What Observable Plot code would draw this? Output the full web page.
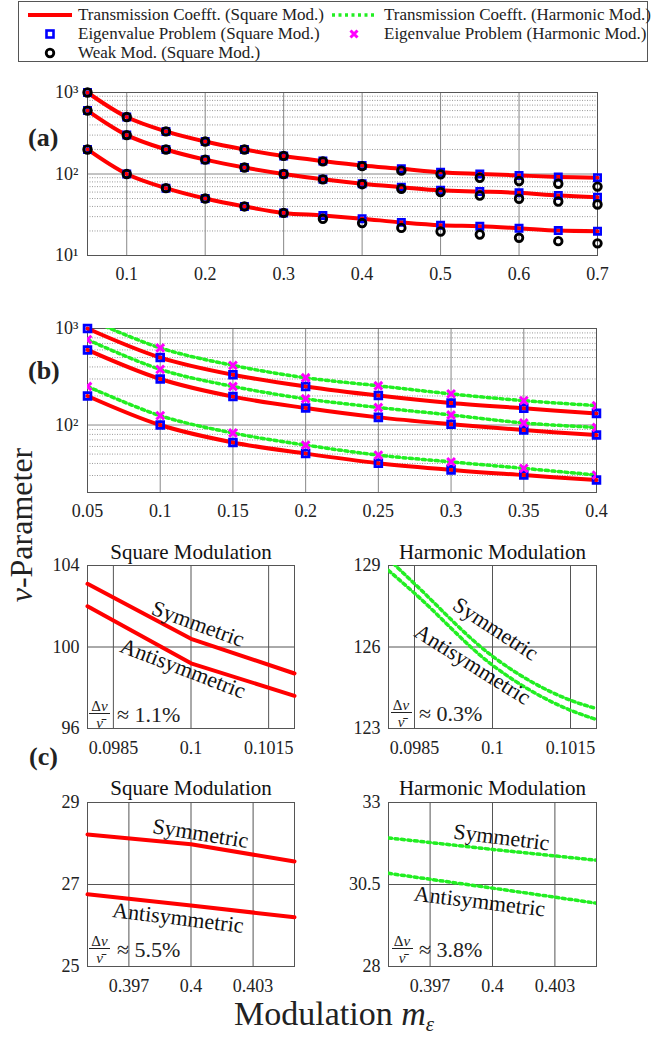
<!DOCTYPE html>
<html><head><meta charset="utf-8">
<script src="https://cdn.jsdelivr.net/npm/d3@7"></script>
<script src="https://cdn.jsdelivr.net/npm/@observablehq/plot@0.6"></script>
<style>
body{margin:0;background:#fff;}
#root{position:relative;width:654px;height:1042px;overflow:hidden;font-family:"Liberation Serif","DejaVu Serif",serif;color:#222;}
.abs{position:absolute;white-space:nowrap;}
svg{overflow:visible;}
</style></head><body><div id="root"></div>
<script>
// ---------- data ----------
const legendLabels = ["Transmission Coefft. (Square Mod.)","Transmission Coefft. (Harmonic Mod.)","Eigenvalue Problem (Square Mod.)","Eigenvalue Problem (Harmonic Mod.)","Weak Mod. (Square Mod.)"];

// panel (a)
const mA = [0.05,0.1,0.15,0.2,0.25,0.3,0.35,0.4,0.45,0.5,0.55,0.6,0.65,0.7];
const sqTopA = [1000,500,333,250,200,166,144,127,116,105,100,96,92,90];
const sqMidA = [600,300,200,150,120,100,86,76,69,63,61,58.7,54.5,52];
const sqBotA = [200,100,67,50,40,33.3,31,28.3,25.5,23.5,22.9,21.6,20.2,19.9];
const weakTopA = [1000,500,333,250,200,167,143,125,110,99,90,82,76,70];
const weakMidA = [600,300,200,150,120,100,86,75,66,60,54.5,49.7,46,42.3];
const weakBotA = [200,100,67,50,40,33.3,28.2,25,21.8,19.7,18.1,16.5,15,14.1];
const xTicksA = [0.1,0.2,0.3,0.4,0.5,0.6,0.7];
const xTickLabelsA = ["0.1","0.2","0.3","0.4","0.5","0.6","0.7"];
const yTicksA = [10,100,1000];
const yTickLabelsA = ["10\u00B9","10\u00B2","10\u00B3"];
const minorA = [20,30,40,50,60,70,80,90,200,300,400,500,600,700,800,900];

// panel (b)
const mB = [0.05,0.1,0.15,0.2,0.25,0.3,0.35,0.4];
const sqTopB = [1000,500,332,251,202,169,149,132];
const sqMidB = [600,300,197,150,120,102,88.6,78.7];
const sqBotB = [200,100,66,50.6,40.2,34.3,30.3,26.9];
const hmTopB = [1260,629,415,309,255,210,179,159];
const hmMidB = [767,377,251,187,152,127,105,94.4];
const hmBotB = [251,125,82.6,62,48.8,41.5,35.6,30.3];
const xTicksB = [0.05,0.1,0.15,0.2,0.25,0.3,0.35,0.4];
const xTickLabelsB = ["0.05","0.1","0.15","0.2","0.25","0.3","0.35","0.4"];
const yTicksB = [100,1000];
const yTickLabelsB = ["10\u00B2","10\u00B3"];
const minorB = [30,40,50,60,70,80,90,200,300,400,500,600,700,800,900];

// panel (c), near m = 0.1
const mC1 = [0.098,0.1,0.102];
const symSqC1 = [103.1,100.4,98.7];
const antiSqC1 = [102.0,99.2,97.6];
const mC1h = [0.098,0.0985,0.1,0.1015,0.102];
const symHmC1 = [129.24,128.33,125.66,124.04,123.73];
const antiHmC1 = [128.82,127.98,125.33,123.67,123.33];
const xTicksC1 = [0.0985,0.1,0.1015];
const xTickLabelsC1 = ["0.0985","0.1","0.1015"];
const yTicksSqC1 = [96,100,104];
const yTickLabelsSqC1 = ["96","100","104"];
const yTicksHmC1 = [123,126,129];
const yTickLabelsHmC1 = ["123","126","129"];

// panel (c), near m = 0.4
const mC2 = [0.395,0.4,0.405];
const symSqC2 = [28.22,27.98,27.56];
const antiSqC2 = [26.76,26.49,26.2];
const symHmC2 = [31.92,31.57,31.24];
const antiHmC2 = [30.84,30.39,29.93];
const xTicksC2 = [0.397,0.4,0.403];
const xTickLabelsC2 = ["0.397","0.4","0.403"];
const yTicksSqC2 = [25,27,29];
const yTickLabelsSqC2 = ["25","27","29"];
const yTicksHmC2 = [28,30.5,33];
const yTickLabelsHmC2 = ["28","30.5","33"];

const titles = ["Square Modulation","Harmonic Modulation"];
const modeLabels = ["Symmetric","Antisymmetric"];
const splits = ["\u2248 1.1%","\u2248 0.3%","\u2248 5.5%","\u2248 3.8%"];

// ---------- styling ----------
const FONT = '"Liberation Serif","DejaVu Serif",serif';
const RED = "#ff0000", GREEN = "#22ee22", BLUE = "#0000ff", MAG = "#ff00ff";
const root = document.getElementById("root");
function place(el, left, top){ el.style.position="absolute"; el.style.left=left+"px"; el.style.top=top+"px"; root.appendChild(el); return el; }
function html(str, left, top, css){ const d=document.createElement("div"); d.className="abs"; d.innerHTML=str; if(css) d.style.cssText+=css; return place(d,left,top); }
const rows = (ms, vals, series) => ms.map((m,i)=>({m, v: vals[i], series}));
const fmt = (ticks, labels) => { const mp = new Map(ticks.map((t,i)=>[t, labels[i]])); return d => mp.has(d) ? mp.get(d) : ""; };

// ---------- legend ----------
(function(){
  const box = document.createElement("div");
  box.style.cssText = "width:630px;height:61px;border:1px solid #555;background:#fff;box-sizing:border-box;";
  place(box, 18, 1);
  const sw = (inner)=>`<svg width="50" height="18" style="vertical-align:middle">${inner}</svg>`;
  const redLine = `<line x1="4" x2="48" y1="9" y2="9" stroke="${RED}" stroke-width="4"/>`;
  const greenLine = `<line x1="2" x2="46" y1="9" y2="9" stroke="${GREEN}" stroke-width="3.5" stroke-dasharray="3,3.5"/>`;
  const sq = `<rect x="22.5" y="5.5" width="7" height="7" fill="#fff" stroke="${BLUE}" stroke-width="2.6"/>`;
  const xm = `<path d="M20.5,5.5L27.5,12.5M27.5,5.5L20.5,12.5" stroke="${MAG}" stroke-width="3"/>`;
  const circ = `<circle cx="26" cy="9" r="3.8" fill="none" stroke="#000" stroke-width="2.8"/>`;
  const items = [[redLine,legendLabels[0],24,5],[greenLine,legendLabels[1],330,5],[sq,legendLabels[2],24,24],[xm,legendLabels[3],330,24],[circ,legendLabels[4],24,43]];
  items.forEach(([s,t,l,tp])=>html(`${sw(s)}<span style="vertical-align:middle;margin-left:4px">${t}</span>`, l, tp, "font-size:17px;line-height:18px;"));
})();

// ---------- common plot builder ----------
function basePlot(opts){
  return Plot.plot(Object.assign({
    style:{fontFamily:FONT, fontSize:"18px", color:"#222", background:"transparent", overflow:"visible"}
  }, opts));
}

// ---------- panel (a) ----------
const sqA = [...rows(mA,sqTopA,"t"),...rows(mA,sqMidA,"m"),...rows(mA,sqBotA,"b")];
const weakA = [...rows(mA,weakTopA,"t"),...rows(mA,weakMidA,"m"),...rows(mA,weakBotA,"b")];
place(basePlot({
  width:654, height:230, marginLeft:87, marginRight:57, marginTop:32, marginBottom:35,
  x:{domain:[0.05,0.7], ticks:xTicksA, tickFormat:fmt(xTicksA,xTickLabelsA), tickSize:0, tickPadding:12, label:null},
  y:{type:"log", domain:[10,1000], ticks:yTicksA, tickFormat:fmt(yTicksA,yTickLabelsA), tickSize:0, tickPadding:9, label:null},
  marks:[
    Plot.ruleY(minorA,{stroke:"#999", strokeDasharray:"1,1.5"}),
    Plot.ruleY(yTicksA,{stroke:"#888"}),
    Plot.ruleX(xTicksA,{stroke:"#888"}),
    Plot.frame({stroke:"#555"}),
    Plot.line(sqA,{x:"m", y:"v", z:"series", stroke:RED, strokeWidth:4, curve:"catmull-rom"}),
    Plot.dot(sqA,{x:"m", y:"v", symbol:"square", r:3.6, stroke:BLUE, strokeWidth:2.6, fill:"none"}),
    Plot.dot(weakA,{x:"m", y:"v", r:3.8, stroke:"#000", strokeWidth:2.8, fill:"none"})
  ]
}), 0, 60);

// ---------- panel (b) ----------
const sqB = [...rows(mB,sqTopB,"t"),...rows(mB,sqMidB,"m"),...rows(mB,sqBotB,"b")];
const hmB = [...rows(mB,hmTopB,"t"),...rows(mB,hmMidB,"m"),...rows(mB,hmBotB,"b")];
place(basePlot({
  width:654, height:230, marginLeft:87, marginRight:58, marginTop:28, marginBottom:38,
  x:{domain:[0.05,0.4], ticks:xTicksB, tickFormat:fmt(xTicksB,xTickLabelsB), tickSize:0, tickPadding:12, label:null},
  y:{type:"log", domain:[20,1000], ticks:yTicksB, tickFormat:fmt(yTicksB,yTickLabelsB), tickSize:0, tickPadding:9, label:null},
  marks:[
    Plot.ruleY(minorB,{stroke:"#999", strokeDasharray:"1,1.5"}),
    Plot.ruleY(yTicksB,{stroke:"#888"}),
    Plot.ruleX(xTicksB,{stroke:"#888"}),
    Plot.frame({stroke:"#555"}),
    Plot.line(sqB,{x:"m", y:"v", z:"series", stroke:RED, strokeWidth:4, curve:"catmull-rom"}),
    Plot.line(hmB,{x:"m", y:"v", z:"series", stroke:GREEN, strokeWidth:3.5, strokeDasharray:"3,3.5", curve:"catmull-rom", clip:true}),
    Plot.dot(sqB,{x:"m", y:"v", symbol:"square", r:3.8, stroke:BLUE, strokeWidth:2.8, fill:"none"}),
    Plot.dot(hmB,{x:"m", y:"v", symbol:"times", r:3.6, stroke:MAG, strokeWidth:3, clip:true})
  ]
}), 0, 300);

// ---------- panel (c) ----------
function cPlot(o){
  const marks = [
    Plot.ruleY(o.yTicks,{stroke:"#555"}),
    Plot.ruleX(o.xTicks,{stroke:"#555"}),
    Plot.frame({stroke:"#555"}),
    ...o.lines,
    Plot.text([o.title],{frameAnchor:"top", lineAnchor:"middle", dy:o.titleDy, fontSize:21, fill:"#111"}),
    Plot.text([modeLabels[0]],{frameAnchor:"middle", dx:o.sym[0], dy:o.sym[1], rotate:o.sym[2], fontSize:22, fill:"#111"}),
    Plot.text([modeLabels[1]],{frameAnchor:"middle", dx:o.anti[0], dy:o.anti[1], rotate:o.anti[2], fontSize:22, fill:"#111"})
  ];
  return basePlot({
    width:327, height:o.height, marginLeft:o.ml, marginRight:o.mr, marginTop:o.mt, marginBottom:o.mb,
    x:{domain:o.xDomain, ticks:o.xTicks, tickFormat:fmt(o.xTicks,o.xLabels), tickSize:0, tickPadding:13, label:null},
    y:{domain:o.yDomain, ticks:o.yTicks, tickFormat:fmt(o.yTicks,o.yLabels), tickSize:0, tickPadding:8, label:null},
    marks
  });
}
const redLines = (ms, a, b) => [
  Plot.line(rows(ms,a,"s"),{x:"m", y:"v", stroke:RED, strokeWidth:4}),
  Plot.line(rows(ms,b,"a"),{x:"m", y:"v", stroke:RED, strokeWidth:4})];
const greenLines = (ms, a, b, curve) => [
  Plot.line(rows(ms,a,"s"),{x:"m", y:"v", stroke:GREEN, strokeWidth:3.5, strokeDasharray:"3,3.5", curve, clip:true}),
  Plot.line(rows(ms,b,"a"),{x:"m", y:"v", stroke:GREEN, strokeWidth:3.5, strokeDasharray:"3,3.5", curve, clip:true})];

place(cPlot({height:240, ml:87, mr:33, mt:35, mb:42, xDomain:[0.098,0.102], xTicks:xTicksC1, xLabels:xTickLabelsC1,
  yDomain:[96,104], yTicks:yTicksSqC1, yLabels:yTickLabelsSqC1, lines:redLines(mC1,symSqC1,antiSqC1),
  title:titles[0], titleDy:-13, sym:[7,-23,20], anti:[-8,21.5,21]}), 0, 530);
place(cPlot({height:240, ml:61, mr:58, mt:35, mb:42, xDomain:[0.098,0.102], xTicks:xTicksC1, xLabels:xTickLabelsC1,
  yDomain:[123,129], yTicks:yTicksHmC1, yLabels:yTickLabelsHmC1, lines:greenLines(mC1h,symHmC1,antiHmC1,"monotone-x"),
  title:titles[1], titleDy:-13, sym:[3,-18,33], anti:[-20,17.5,32]}), 327, 530);
place(cPlot({height:230, ml:87, mr:33, mt:32, mb:34, xDomain:[0.395,0.405], xTicks:xTicksC2, xLabels:xTickLabelsC2,
  yDomain:[25,29], yTicks:yTicksSqC2, yLabels:yTickLabelsSqC2, lines:redLines(mC2,symSqC2,antiSqC2),
  title:titles[0], titleDy:-14, sym:[9.5,-51,9], anti:[-13,33.5,7]}), 0, 770);
place(cPlot({height:230, ml:61, mr:58, mt:32, mb:34, xDomain:[0.395,0.405], xTicks:xTicksC2, xLabels:xTickLabelsC2,
  yDomain:[28,33], yTicks:yTicksHmC2, yLabels:yTickLabelsHmC2, lines:greenLines(mC2,symHmC2,antiHmC2,"linear"),
  title:titles[1], titleDy:-14, sym:[9,-47,7], anti:[-13,17,7]}), 327, 770);

// fraction annotations  Δν / ν̄  ≈ x%
function frac(cx, barY, textLeft, txt){
  html("&Delta;<i>&nu;</i>", cx-12, barY-15, "font-size:15px;line-height:16px;width:24px;text-align:center;");
  const bar = document.createElement("div"); bar.style.cssText="height:1px;width:21px;background:#222;"; place(bar, cx-10.5, barY);
  html("<i>&nu;&#772;</i>", cx-12, barY+2, "font-size:15px;line-height:16px;width:24px;text-align:center;");
  html(txt, textLeft, barY-9, "font-size:22px;line-height:22px;");
}
frac(99.5, 712.5, 117, splits[0]);
frac(401, 711.5, 419, splits[1]);
frac(99.5, 948, 117, splits[2]);
frac(402, 948, 419, splits[3]);

// panel labels and axis titles
html("(a)", 28, 124, "font-size:26px;font-weight:bold;line-height:28px;");
html("(b)", 28, 357, "font-size:26px;font-weight:bold;line-height:28px;");
html("(c)", 29, 743, "font-size:26px;font-weight:bold;line-height:28px;");
html("<i>&nu;</i>-Parameter", 21-120, 525-18, "font-size:32px;line-height:36px;width:240px;text-align:center;transform:rotate(-90deg);");
html("Modulation <i>m</i><sub style='font-size:21px;vertical-align:-6px'><i>&epsilon;</i></sub>", 0, 996, "font-size:34px;line-height:36px;width:668px;text-align:center;");
</script></body></html>
